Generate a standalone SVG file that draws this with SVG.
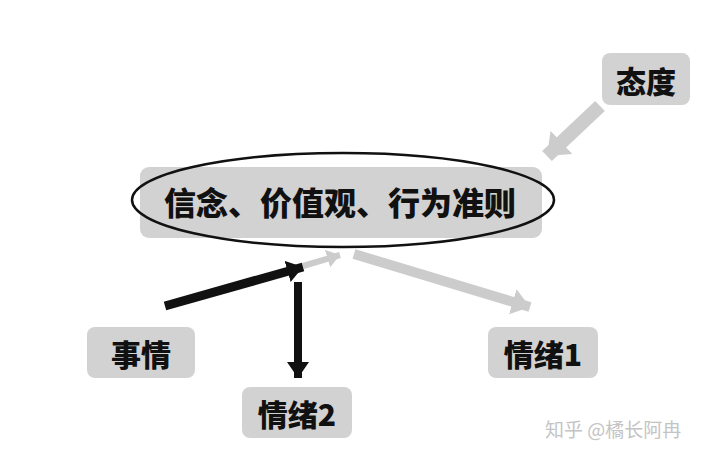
<svg xmlns="http://www.w3.org/2000/svg" width="720" height="456" viewBox="0 0 720 456">
<style>
.box{fill:#d2d2d2;}
.lbl{font-family:"Noto Sans CJK SC","Noto Sans",sans-serif;font-weight:900;fill:#111;text-anchor:middle;dominant-baseline:central;}
.blk{stroke:#111;fill:none;}
.gry{stroke:#cccccc;fill:none;}
.wm{font-family:"Noto Sans CJK SC","Noto Sans",sans-serif;fill:#c4c4c4;font-size:19px;}
</style>
<defs>
<marker id="hb" markerUnits="userSpaceOnUse" markerWidth="20" markerHeight="22" refX="16" refY="11" orient="auto">
<path d="M0,0 L16,11 L0,22 Z" fill="#111"/>
</marker>
<marker id="hg" markerUnits="userSpaceOnUse" markerWidth="24" markerHeight="32" refX="20" refY="16" orient="auto">
<path d="M0,0 L20,16 L0,32 Z" fill="#cccccc"/>
</marker>
<marker id="hg2" markerUnits="userSpaceOnUse" markerWidth="22" markerHeight="26" refX="18" refY="13" orient="auto">
<path d="M0,0 L18,13 L0,26 Z" fill="#cccccc"/>
</marker>
<marker id="hgs" markerUnits="userSpaceOnUse" markerWidth="16" markerHeight="18" refX="13" refY="9" orient="auto">
<path d="M0,0 L13,9 L0,18 Z" fill="#cccccc"/>
</marker>
</defs>
<rect width="720" height="456" fill="#fff"/>
<g id="connectors">
<line class="gry" x1="600" y1="106" x2="547" y2="156" stroke-width="14" marker-end="url(#hg)"/>
<line class="gry" x1="303" y1="266" x2="340" y2="255" stroke-width="6" marker-end="url(#hgs)"/>
<line class="gry" x1="354" y1="254" x2="530" y2="307" stroke-width="10" marker-end="url(#hg2)"/>
<line class="blk" x1="165" y1="306" x2="303" y2="267" stroke-width="9" marker-end="url(#hb)"/>
<line class="blk" x1="298" y1="282" x2="298" y2="378" stroke-width="8" marker-end="url(#hb)"/>
</g>
<g id="belief">
<rect class="box" x="140" y="167" width="402" height="71" rx="9"/>
<ellipse cx="343" cy="200" rx="211" ry="47" fill="none" stroke="#111" stroke-width="2.5"/>
<text class="lbl" x="340" y="201" font-size="32">信念、价值观、行为准则</text>
</g>
<g id="attitude">
<rect class="box" x="602" y="53" width="88" height="52" rx="8"/>
<text class="lbl" x="646" y="80" font-size="30">态度</text>
</g>
<g id="event">
<rect class="box" x="87" y="327" width="108" height="51" rx="8"/>
<text class="lbl" x="141" y="353" font-size="30">事情</text>
</g>
<g id="emotion1">
<rect class="box" x="488" y="327" width="110" height="51" rx="8"/>
<text class="lbl" x="543" y="353" font-size="30">情绪1</text>
</g>
<g id="emotion2">
<rect class="box" x="242" y="387" width="110" height="51" rx="8"/>
<text class="lbl" x="297" y="413" font-size="30">情绪2</text>
</g>
<text class="wm" x="545" y="437">知乎 @橘长阿冉</text>
</svg>
